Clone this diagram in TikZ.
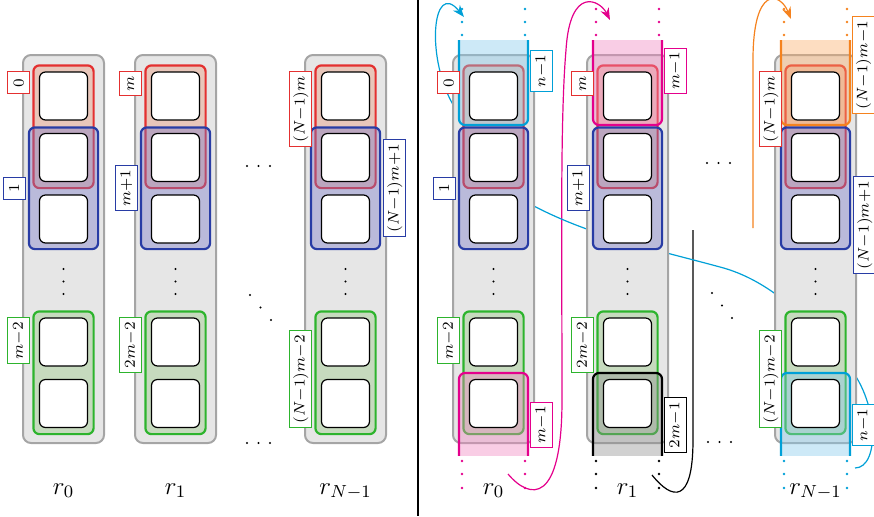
\RequirePackage{fix-cm}
\documentclass[tikz,border=0pt]{standalone}
\usetikzlibrary{arrows.meta,fit}
\definecolor{kgray}{RGB}{165,165,165}
\definecolor{fgray}{RGB}{230,230,230}
\definecolor{kred}{RGB}{228,48,48}
\definecolor{fred}{RGB}{235,150,120}
\definecolor{kblue}{RGB}{40,60,165}
\definecolor{fblue}{RGB}{120,120,200}
\definecolor{kgreen}{RGB}{45,180,45}
\definecolor{fgreen}{RGB}{150,200,130}
\definecolor{kcyan}{RGB}{0,160,215}
\definecolor{fcyan}{RGB}{130,200,235}
\definecolor{kmag}{RGB}{228,0,140}
\definecolor{fmag}{RGB}{240,130,190}
\definecolor{korange}{RGB}{245,130,30}
\definecolor{forange}{RGB}{250,170,100}
\definecolor{kblack}{RGB}{0,0,0}
\definecolor{fblack}{RGB}{140,140,140}
\pgfdeclarelayer{back}
\pgfdeclarelayer{mid}
\pgfsetlayers{back,mid,main}
\newcommand{\labfont}{\fontsize{7.6}{9}\selectfont}
\newcommand{\regfont}{\fontsize{12.5}{15}\selectfont}
% window that runs off the register: #1 x, #2 colour, #3-#4 clip, #5-#6 box
\newcommand{\openbox}[6]{%
  \begin{scope}
    \clip (#1-40,#3) rectangle (#1+40,#4);
    \draw[grp=#2] (#1-34.5,#5) rectangle (#1+34.5,#6);
  \end{scope}}

\begin{document}
\begin{tikzpicture}[x=0.5pt,y=-0.5pt,
    column/.style={draw=kgray,fill=fgray,line width=1pt,rounded corners=4pt},
    cell/.style={draw=black,fill=white,line width=0.6pt,rounded corners=3pt,
      minimum size=24pt,inner sep=0pt},
    grp/.style={draw=k#1,fill=f#1,fill opacity=0.4,line width=1.1pt,
      rounded corners=3pt,inner xsep=2.75pt,inner ysep=3pt},
    lab/.style={draw=k#1,fill=white,line width=0.5pt,rotate=90,font=\labfont,
      inner xsep=2pt,inner ysep=1.5pt,minimum width=11pt,minimum height=11pt},
    link/.style={draw=k#1,line width=0.6pt},
    tip/.style={-{Stealth[length=6pt,width=4.5pt]}}]
\useasboundingbox (0,0) rectangle (874,516);

\coordinate (cyA) at (455,108);
\coordinate (cyB) at (464,17);
\coordinate (mgA) at (508,474);
\coordinate (mgB) at (610,20);
\coordinate (bkA) at (652,475);
\coordinate (bkB) at (693,230);
\coordinate (orA) at (753,228);
\coordinate (orB) at (791,19);
\coordinate (cyC) at (530,204);
\coordinate (cyD) at (855,468);
\coordinate (sepT) at (418,0);
\coordinate (sepB) at (418,516);

\begin{pgfonlayer}{back}
\draw[link=cyan,tip] (cyA) .. controls (425,60) and (432,-22) .. (cyB);
\draw[link=mag,tip] (mgA) .. controls (530,500) and (562,505) .. (562,400)
  .. controls (562,250) and (560,120) .. (566,50)
  .. controls (570,-15) and (600,0) .. (mgB);
\draw[link=black] (bkA) .. controls (672,500) and (693,505) .. (693,440) -- (bkB);
\draw[link=orange,tip] (orA) -- (753,60) .. controls (753,-15) and (780,-8) .. (orB);
\draw[link=cyan] (cyC) .. controls (590,236) and (650,248) .. (720,267)
  .. controls (770,280) and (810,320) .. (845,362)
  .. controls (880,400) and (880,468) .. (cyD);
\end{pgfonlayer}

\foreach \c/\x in {L0/63.5,L1/175.5,LN/345.5,R0/493.5,R1/627.5,RN/815.5}{
  \begin{pgfonlayer}{back}
    \draw[column] (\x-40.5,55) rectangle (\x+40.5,443);
  \end{pgfonlayer}
  \foreach \i/\y in {0/96,1/157.5,2/219,4/342,5/403.5}
    \node[cell] (\c c\i) at (\x,\y) {};
  \foreach \y in {269,281.5,294}
    \fill (\x,\y) circle (0.6pt);
  \begin{pgfonlayer}{mid}
    \node[grp=red,fit=(\c c0)(\c c1)] (\c red) {};
    \node[grp=blue,inner xsep=5pt,inner ysep=2.75pt,fit=(\c c1)(\c c2)] (\c blue) {};
    \node[grp=green,fit=(\c c4)(\c c5)] (\c green) {};
  \end{pgfonlayer}
}

\begin{pgfonlayer}{mid}
\openbox{493.5}{cyan}{40}{132}{20}{125}
\openbox{493.5}{mag}{366}{455}{373}{480}
\openbox{627.5}{mag}{40}{132}{20}{125}
\openbox{627.5}{black}{366}{455}{373}{480}
\openbox{815.5}{orange}{40}{132}{20}{125}
\openbox{815.5}{cyan}{366}{455}{373}{480}
\end{pgfonlayer}

\foreach \x/\col/\ya/\yb/\yc in {493.5/cyan/9/22/35,493.5/mag/461/474/488,
    627.5/mag/9/22/35,627.5/black/461/474/488,
    815.5/orange/9/22/35,815.5/cyan/461/474/488}
  \foreach \y in {\ya,\yb,\yc}
    \fill[k\col] (\x-31.5,\y) circle (0.65pt) (\x+31.5,\y) circle (0.65pt);

% left: r_0, r_1, r_{N-1}
\node[xshift=-1pt,lab=red,anchor=south east] (L0lr) at (L0red.west |- L0c0.north) {$0$};
\node[xshift=-1pt,lab=blue,anchor=south] (L0lb) at (L0blue.west) {$1$};
\node[xshift=-1pt,lab=green,anchor=south east] (L0lg) at (L0green.west |- L0c4.north) {$m{-}2$};
\node[xshift=-1pt,lab=red,anchor=south east] (L1lr) at (L1red.west |- L1c0.north) {$m$};
\node[xshift=-1pt,lab=blue,anchor=south] (L1lb) at (L1blue.west) {$m{+}1$};
\node[xshift=-1pt,lab=green,anchor=south east] (L1lg) at (L1green.west |- L1c4.north) {$2m{-}2$};
\node[xshift=-1pt,lab=red,anchor=south east] (LNlr) at (LNred.west |- LNc0.north) {$(N{-}1)m$};
\node[xshift=1pt,lab=blue,anchor=north] (LNlb) at (LNblue.east) {$(N{-}1)m{+}1$};
\node[xshift=-1pt,lab=green,anchor=south west] (LNlg) at (LNgreen.west |- LNc5.south) {$(N{-}1)m{-}2$};

% right: the same registers with the wrap-around windows
\node[xshift=-1pt,lab=red,anchor=south east] (R0lr) at (R0red.west |- R0c0.north) {$0$};
\node[xshift=-1pt,lab=blue,anchor=south] (R0lb) at (R0blue.west) {$1$};
\node[xshift=-1pt,lab=green,anchor=south east] (R0lg) at (R0green.west |- R0c4.north) {$m{-}2$};
\node[xshift=1pt,lab=cyan,anchor=north] (R0lt) at (528,71) {$n{-}1$};
\node[xshift=1pt,lab=mag,anchor=north] (R0ld) at (528,425) {$m{-}1$};
\node[xshift=-1pt,lab=red,anchor=south east] (R1lr) at (R1red.west |- R1c0.north) {$m$};
\node[xshift=-1pt,lab=blue,anchor=south] (R1lb) at (R1blue.west) {$m{+}1$};
\node[xshift=-1pt,lab=green,anchor=south east] (R1lg) at (R1green.west |- R1c4.north) {$2m{-}2$};
\node[xshift=1pt,lab=mag,anchor=north] (R1lt) at (662,71) {$m{-}1$};
\node[xshift=1pt,lab=black,anchor=north] (R1ld) at (662,425) {$2m{-}1$};
\node[xshift=-1pt,lab=red,anchor=south east] (RNlr) at (RNred.west |- RNc0.north) {$(N{-}1)m$};
\node[xshift=1pt,yshift=6pt,lab=blue,anchor=north east] (RNlb) at (RNblue.east) {$(N{-}1)m{+}1$};
\node[xshift=-1pt,lab=green,anchor=south west] (RNlg) at (RNgreen.west |- RNc5.south) {$(N{-}1)m{-}2$};
\node[xshift=1pt,lab=orange,anchor=north] (RNlt) at (850,65) {$(N{-}1)m{-}1$};
\node[xshift=1pt,lab=cyan,anchor=north] (RNld) at (850,425) {$n{-}1$};

\foreach \c/\x/\t in {L0/63.5/r_0,L1/175.5/r_1,LN/345.5/r_{N-1},
    R0/493.5/r_0,R1/627.5/r_1,RN/815.5/r_{N-1}}
  \node[font=\regfont,anchor=base] (\c name) at (\x,494) {$\t$};

\foreach \x/\y in {247/166,258.5/166,270/166,250/295,260.5/307.5,271/320,
    247/443,258.5/443,270/443,707/163,718.5/163,730/163,
    712/293,722/305.5,732/318,708/442,719.5/442,731/442}
  \fill (\x,\y) circle (0.6pt);

\draw[line width=0.8pt] (sepT) -- (sepB);
\end{tikzpicture}
\end{document}
